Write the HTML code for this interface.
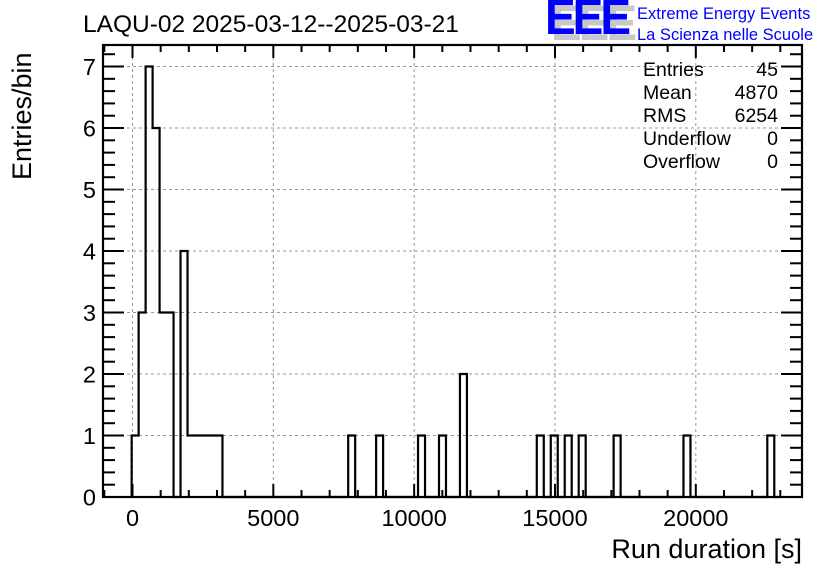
<!DOCTYPE html>
<html><head><meta charset="utf-8"><style>
body{margin:0;background:#fff}
svg{display:block;font-family:"Liberation Sans",Arial,sans-serif}
</style></head><body>
<svg id="chart" width="836" height="572" viewBox="0 0 836 572">
<rect width="836" height="572" fill="#fff"/>
<g id="grid"></g>
<g id="ticks"></g>
<path id="hist" fill="none" stroke="#000" stroke-width="2.2"/>
<rect x="103" y="45" width="699" height="452" fill="none" stroke="#000" stroke-width="2.2"/>
<g id="labels" font-size="23.5" fill="#000"></g>
<text x="83" y="32" font-size="24.5">LAQU-02 2025-03-12--2025-03-21</text>
<text transform="translate(31,180) rotate(-90)" font-size="27">Entries/bin</text>
<text x="802" y="558" font-size="27" text-anchor="end">Run duration [s]</text>
<g font-weight="bold" font-size="46">
<text x="551" y="40" fill="#c8c8c8" letter-spacing="-3" transform="translate(551,40) scale(1,1.08) translate(-551,-40)">EEE</text>
<text x="545" y="34" fill="#0000ff" letter-spacing="-3" transform="translate(545,34) scale(1,1.08) translate(-545,-34)">EEE</text>
</g>
<text x="637" y="19" font-size="16.5" fill="#0000ff">Extreme Energy Events</text>
<text x="637" y="40" font-size="16.5" fill="#0000ff">La Scienza nelle Scuole</text>
<g font-size="19.5">
<text x="643" y="76">Entries</text><text x="778" y="76" text-anchor="end">45</text>
<text x="643" y="99">Mean</text><text x="778" y="99" text-anchor="end">4870</text>
<text x="643" y="122">RMS</text><text x="778" y="122" text-anchor="end">6254</text>
<text x="643" y="145">Underflow</text><text x="778" y="145" text-anchor="end">0</text>
<text x="643" y="168">Overflow</text><text x="778" y="168" text-anchor="end">0</text>
</g>
</svg>
<script>
const binWidth = 248;
const binStart = -30;
const binIndex = [0,1,2,3,4,5,6,7,8,9,10,11,12,31,35,41,44,47,58,60,62,64,69,79,91];
const binCount = [1,3,7,6,3,3,0,4,1,1,1,1,1,1,1,1,1,2,1,1,1,1,1,1,1];
const xTicks = [0,5000,10000,15000,20000];
const yTicks = [0,1,2,3,4,5,6,7];

const X0=103,X1=802,Y0=497,Y1=45;
const xMin=-1047,xMax=23770,yMin=0,yMax=7.35;
const sx=v=>X0+(v-xMin)/(xMax-xMin)*(X1-X0);
const sy=v=>Y0-(v-yMin)/(yMax-yMin)*(Y0-Y1);
const NS="http://www.w3.org/2000/svg";
function mk(tag,attrs,parent){const e=document.createElementNS(NS,tag);for(const k in attrs)e.setAttribute(k,attrs[k]);parent.appendChild(e);return e;}
const grid=document.getElementById('grid'),ticks=document.getElementById('ticks'),labels=document.getElementById('labels');
xTicks.forEach(t=>{const x=sx(t);
 const g=mk('line',{x1:x,x2:x,y1:Y1,y2:Y0,stroke:'#999','stroke-dasharray':'3,3','stroke-width':1},grid);
 
 
 const l=mk('text',{x:x,y:526,'text-anchor':'middle'},labels);l.textContent=t;
 
 
});
yTicks.forEach(t=>{const y=sy(t);
 if(t>0){const g=mk('line',{x1:X0,x2:X1,y1:y,y2:y,stroke:'#999','stroke-dasharray':'3,3','stroke-width':1},grid);
 
 }
 const l=mk('text',{x:96,y:y+8.5,'text-anchor':'end'},labels);l.textContent=t;
 
 
});
for(let v=-1000;v<=xMax;v+=1000){if(v<xMin)continue;const x=sx(v);const L=(v%5000===0)?13:7;
 mk('line',{x1:x,x2:x,y1:Y0,y2:Y0-L,stroke:'#000','stroke-width':2},ticks);
 mk('line',{x1:x,x2:x,y1:Y1,y2:Y1+L,stroke:'#000','stroke-width':2},ticks);}
for(let i=0;i<=36;i++){const v=i*0.2;if(v>yMax)break;const y=sy(v);const L=(i%5===0)?21:12;
 mk('line',{x1:X0,x2:X0+L,y1:y,y2:y,stroke:'#000','stroke-width':2},ticks);
 mk('line',{x1:X1,x2:X1-L,y1:y,y2:y,stroke:'#000','stroke-width':2},ticks);}
const counts={};binIndex.forEach((k,i)=>counts[k]=binCount[i]);
const nb=Math.max(...binIndex)+2;
let d=`M${sx(binStart)},${sy(0)}`;let prev=0;
for(let k=0;k<nb;k++){const c=counts[k]||0;const xl=sx(binStart+k*binWidth);
 if(c!==prev){d+=` L${xl},${sy(prev)} L${xl},${sy(c)}`;}prev=c;}
d+=` L${sx(binStart+nb*binWidth)},${sy(0)}`;
document.getElementById('hist').setAttribute('d',d);
</script>
</body></html>
